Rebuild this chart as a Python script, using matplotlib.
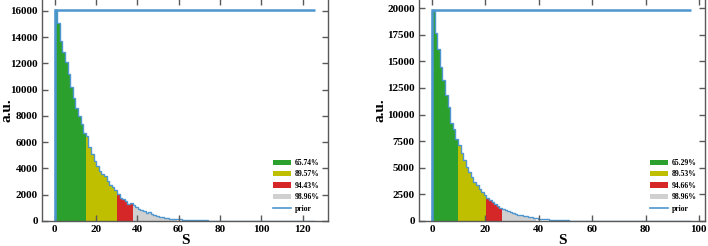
import numpy as np
import matplotlib
matplotlib.use("Agg")
import matplotlib.pyplot as plt
from matplotlib.ticker import MultipleLocator

# --- datos panel izquierdo (100 bins entre 0 y 126) ---
s_max_a = 126
counts_a = [16100, 15050, 13700, 12900, 12100, 11200, 10200, 9400, 8600, 8020,
            7390, 6680, 6450, 5615, 5105, 4600, 4215, 3835, 3580, 3400,
            3070, 2740, 2570, 2390, 2060, 1780, 1680, 1530, 1270, 1400,
            1190, 1060, 930, 840, 740, 610, 660, 560, 480, 400,
            330, 290, 250, 220, 190, 170, 150, 135, 120, 108,
            96, 86, 77, 69, 62, 55, 49, 44, 39, 35,
            31, 27, 24, 21, 19, 17, 15, 13, 11, 10,
            9, 8, 7, 6, 5, 5, 4, 4, 3, 3,
            2, 2, 2, 1, 1, 1, 0, 0, 0, 0,
            0, 0, 0, 0, 0, 0, 0, 0, 0, 0]
prior_a = 16100
cuts_a = [0, 12, 24, 30, 47]
labels_a = ["65.74%", "89.57%", "94.43%", "98.96%"]

# --- datos panel derecho (100 bins entre 0 y 97) ---
s_max_b = 97
counts_b = [19700, 17650, 16200, 14500, 13200, 11800, 10700, 9200, 8600, 7700,
            7100, 6350, 5700, 5050, 4600, 4100, 3700, 3350, 3050, 2720,
            2470, 2150, 1950, 1750, 1550, 1400, 1200, 1150, 1050, 950,
            850, 760, 680, 610, 560, 500, 440, 390, 340, 300,
            260, 225, 195, 170, 150, 130, 115, 100, 88, 77,
            67, 58, 50, 44, 38, 33, 29, 25, 22, 19,
            16, 14, 12, 10, 9, 8, 7, 6, 5, 4,
            3, 3, 2, 2, 1, 1, 0, 0, 0, 0,
            0, 0, 0, 0, 0, 0, 0, 0, 0, 0,
            0, 0, 0, 0, 0, 0, 0, 0, 0, 0]
prior_b = 19800
cuts_b = [0, 10, 21, 27, 40]
labels_b = ["65.29%", "89.53%", "94.66%", "98.96%"]

colores = ["#2ca02c", "#bfbf00", "#d62728", "#d0d0d0"]
azul = "#4d96cf"

plt.rcParams["font.family"] = ["Liberation Serif", "DejaVu Serif"]
plt.rcParams["font.weight"] = "bold"
plt.rcParams["axes.labelweight"] = "bold"


def dibujar(ax, counts, s_max, prior, cuts, labels, xlim, ylim, ystep):
    counts = np.array(counts, dtype=float)
    edges = np.linspace(0, s_max, len(counts) + 1)
    w = edges[1] - edges[0]
    handles = []
    for i in range(len(labels)):
        lo, hi = cuts[i], cuts[i + 1]
        b = ax.bar(edges[lo:hi], counts[lo:hi], width=w, align="edge",
                   color=colores[i], linewidth=0, label=labels[i])
        handles.append(b)
    ax.stairs(counts, edges, color=azul, linewidth=1.0)
    ax.stairs(np.full(len(counts), prior), edges, baseline=None,
              color=azul, linewidth=1.8)
    ax.plot([0, 0], [0, prior], color=azul, linewidth=1.8)
    # linea para la leyenda del prior
    linea, = ax.plot([], [], color=azul, linewidth=1.2, label="prior")
    handles.append(linea)

    ax.set_xlim(*xlim)
    ax.set_ylim(*ylim)
    ax.xaxis.set_major_locator(MultipleLocator(20))
    ax.yaxis.set_major_locator(MultipleLocator(ystep))
    ax.tick_params(direction="in", top=True, right=True, length=4, width=1,
                   labelsize=8, pad=3, color="0.35")
    for sp in ax.spines.values():
        sp.set_color("0.35")
        sp.set_linewidth(1)
    ax.set_xlabel("S", fontsize=11, labelpad=0)
    ax.set_ylabel("a.u.", fontsize=11)
    ax.legend(handles=handles, loc="lower right", frameon=False, fontsize=5.5,
              handlelength=2.3, handletextpad=0.5, labelspacing=0.45,
              borderaxespad=0.7)


fig = plt.figure(figsize=(7.08, 2.46), dpi=100)
ax1 = fig.add_axes([42 / 708, 25 / 246, 286 / 708, 222 / 246])
ax2 = fig.add_axes([419 / 708, 25 / 246, 286 / 708, 222 / 246])

dibujar(ax1, counts_a, s_max_a, prior_a, cuts_a, labels_a,
        (-6.05, 132.3), (0, 16900), 2000)
dibujar(ax2, counts_b, s_max_b, prior_b, cuts_b, labels_b,
        (-4.9, 102.3), (0, 20850), 2500)

ax1.yaxis.set_label_coords(-0.1, 0.5)
ax2.yaxis.set_label_coords(-0.115, 0.5)

fig.savefig("out.png", dpi=100)
plt.close(fig)
